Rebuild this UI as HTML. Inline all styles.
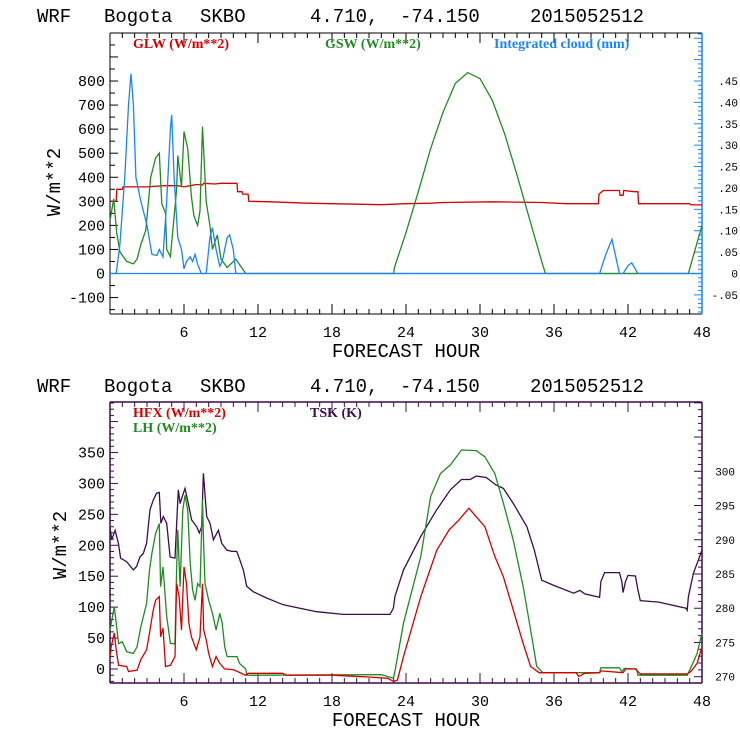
<!DOCTYPE html>
<html><head><meta charset="utf-8"><style>
body{margin:0;background:#fff;}
svg{display:block;}
.t{font-family:"Liberation Mono",monospace;font-size:19px;fill:#000;}
.tk{font-family:"Liberation Mono",monospace;font-size:15px;fill:#000;}
.tks{font-family:"Liberation Mono",monospace;font-size:11px;fill:#000;}
.lg{font-family:"Liberation Serif",serif;font-size:14px;font-weight:bold;}
</style></head><body>
<svg id="c" width="740" height="740" viewBox="0 0 740 740" xmlns="http://www.w3.org/2000/svg"></svg>
<script>
// ---- Panel 1 data ----
const glwH=[0,0.5,0.55,1.0,1.05,3.0,3.5,4.5,5.5,6.0,6.5,7.0,7.5,7.6,8.5,9.0,10.3,10.35,10.7,10.75,11.2,11.25,13,16,20,22,24,26,27,31,35,37,39.6,39.65,40,41.3,41.35,41.6,41.65,42.5,42.8,42.85,47,47.1,48];
const glwV=[300,300,350,350,360,360,362,365,365,360,365,370,368,375,372,375,375,340,340,330,330,300,298,292,288,286,290,292,295,298,295,290,290,330,345,345,325,325,345,340,340,290,290,285,285];
const gswH=[0,0.3,0.54,0.8,1.35,1.9,2.2,2.5,2.9,3.3,3.7,4.0,4.2,4.5,4.6,4.9,5.4,5.5,5.8,6.0,6.3,6.6,6.8,7.1,7.3,7.5,7.8,8.1,8.3,8.7,9.0,9.5,10.2,10.6,11.0,23.0,23.06,24,25,26,27,28,29,30,31,32,33,34,35,35.3,46.9,47.0,48];
const gswV=[220,310,170,90,50,40,60,120,180,400,480,500,290,250,100,70,350,490,360,590,520,320,240,200,260,610,300,200,100,160,60,25,60,30,0,0,25,170,340,520,670,790,835,810,720,580,410,230,50,0,0,20,200];
const cldH=[0,0.5,0.8,1.2,1.5,1.7,1.9,2.1,2.5,3.0,3.4,3.8,4.0,4.3,4.6,4.9,5.0,5.2,5.5,5.8,6.0,6.2,6.5,6.7,6.9,7.1,7.4,7.8,8.1,8.3,8.6,8.9,9.1,9.5,9.7,10.0,10.2,39.7,40.2,40.7,41.3,41.6,42.0,42.3,42.8,48];
const cldV=[0,0,0.068,0.225,0.394,0.467,0.394,0.225,0.169,0.113,0.045,0.042,0.056,0.039,0.169,0.338,0.371,0.225,0.084,0.056,0.011,0.028,0.039,0.028,0.045,0.022,0,0,0.084,0.107,0.056,0.017,0.028,0.084,0.09,0.056,0,0,0.045,0.08,0,0,0.018,0.025,0,0];
const p1Yticks=[-100,0,100,200,300,400,500,600,700,800];
const p1Rticks=["-.05","0",".05",".10",".15",".20",".25",".30",".35",".40",".45"];
const p1RVals=[-0.05,0,0.05,0.10,0.15,0.20,0.25,0.30,0.35,0.40,0.45];
const xTicks=[6,12,18,24,30,36,42,48];
// ---- Panel 2 data ----
const tskH=[0,0.14,0.41,0.68,0.86,1.35,1.89,2.16,2.43,2.7,2.97,3.24,3.51,3.78,4.0,4.13,4.32,4.6,4.87,5.27,5.54,5.68,5.95,6.08,6.35,6.62,7.03,7.24,7.43,7.57,7.84,8.11,8.38,8.79,9.06,9.46,9.87,10.27,10.54,10.81,11.08,11.63,12.7,14.06,15.4,16.76,18.9,21.1,22.7,22.98,23.1,23.8,25.2,26.5,27.6,28.5,29.2,29.7,30.5,31.3,31.9,32.7,33.8,34.4,35.0,35.9,37.6,38.1,38.5,39.7,39.8,40.1,41.3,41.5,41.6,41.8,42.0,42.6,42.8,43.0,44.5,46.7,46.8,46.9,47.3,47.9,48];
const tskV=[291.9,290,291.4,289.5,287.3,286.8,285.6,286.1,287.5,288,289.5,294.4,295.8,296.8,296.9,292.4,293.4,292.4,287.5,287.3,297.3,295.3,296.8,297.5,295.3,292.9,291.9,291,291.9,299.7,293.4,292.4,290,291.4,289.5,288.5,288.3,288.3,287,285.6,283.2,282.4,281.5,280.5,280,279.5,279.1,279.1,279.1,280,281.7,285.6,290.5,294.4,297.3,298.8,298.8,299.3,299.1,298,297.5,295.3,291.9,288.5,284.1,283.4,282.2,282.6,282.1,281.6,283.9,285.2,285.2,283.9,282.3,283.9,284.8,284.7,282.7,281.1,280.9,280,279.7,281.7,285.1,288,288.5];
const lhH=[0,0.2,0.35,0.5,0.7,1.0,1.35,1.9,2.2,2.5,2.97,3.2,3.4,3.7,4.0,4.1,4.3,4.6,4.9,5.27,5.4,5.5,5.68,5.9,6.08,6.3,6.5,6.7,6.9,7.1,7.3,7.5,7.6,7.7,8.0,8.3,8.6,8.9,9.1,9.3,9.5,9.9,10.3,10.5,11.0,11.1,22,22.98,23.1,23.8,25.2,26.0,26.8,27.6,28.5,29.7,30.4,31.2,31.9,32.7,33.5,34.2,34.6,35.1,39.7,39.8,41.3,41.5,41.7,42.7,42.8,46.8,47.0,47.6,48];
const lhV=[63,85,101,74,41,44,28,25,36,68,106,160,187,219,235,133,165,85,41,41,160,225,133,257,281,257,171,128,111,138,133,273,198,138,111,90,63,90,74,36,20,20,20,9,0,-10,-9,-15,-4,74,182,279,316,330,354,353,343,316,268,208,133,52,4,-6,-6,2,2,-4,1,0,-10,-10,-2,25,58];
const hfxH=[0,0.1,0.35,0.5,0.7,1.35,1.5,2.2,2.5,2.97,3.2,3.5,3.7,4.0,4.1,4.3,4.5,4.9,5.27,5.4,5.6,5.8,6.0,6.2,6.4,6.6,7.0,7.3,7.5,7.6,7.8,8.0,8.3,8.6,8.9,9.3,10,11,11.2,14,14.3,18,19,21,22.5,23.0,23.3,23.8,25.2,26.5,27.5,28.3,29.1,29.7,30.4,31.2,31.9,32.7,33.5,34.1,34.8,37.8,38.0,38.5,39.7,39.8,41.6,41.8,42.6,43.0,46.8,47.1,47.6,48];
const hfxV=[20,36,58,31,6,4,-4,-2,15,31,58,95,111,117,52,66,4,6,20,138,117,63,165,138,74,52,31,52,138,63,47,25,4,20,9,0,-1,-10,-7,-7,-10,-10,-11,-13,-15,-20,-18,20,117,192,225,241,260,246,230,182,149,95,41,4,-6,-6,-12,-7,-6,-3,-6,0,0,-8,-8,-4,9,36];
const p2Yticks=[0,50,100,150,200,250,300,350];
const p2RVals=[270,275,280,285,290,295,300];

const svg=document.getElementById('c');
const NS='http://www.w3.org/2000/svg';
function mk(tag,attrs,parent){const e=document.createElementNS(NS,tag);for(const k in attrs)e.setAttribute(k,attrs[k]);(parent||svg).appendChild(e);return e;}
const X0=110,X1=702;
const xs=h=>X0+h*(X1-X0)/48;
const y1=v=>273.5-v*0.2406;
const yc=v=>273.5-v*(800/0.45)*0.2406;
const y2=v=>669-v*0.6186;
const yt=v=>676.7-(v-270)*6.847;

function txt(x,y,s,cls,anchor,fill,name){const e=mk('text',{x:x,y:y,class:cls,'text-anchor':anchor||'start'});if(fill)e.setAttribute('fill',fill);e.textContent=s;


return e;}
function line(xa,ya,xb,yb,col,name,w){const e=mk('line',{x1:xa,y1:ya,x2:xb,y2:yb,stroke:col,'stroke-width':w||1});


return e;}
function series(H,V,fx,fy,col,name){const pts=H.map((h,i)=>fx(h).toFixed(1)+','+fy(V[i]).toFixed(1)).join(' ');const e=mk('polyline',{points:pts,fill:'none',stroke:col,'stroke-width':1.3});


return e;}
function title(yb,name){
 const parts=[[37,'WRF'],[104,'Bogota'],[200,'SKBO'],[310,'4.710,'],[400,'-74.150'],[530,'2015052512']];
 parts.forEach(p=>txt(p[0],yb,p[1],'t','start',null,name));
}
const RED='#d40000',GRN='#228a22',BLU='#1a84ff',PUR='#3c0c4c';

// ===== Panel 1 =====
title(22,'panel1-title');
const T1=33,B1=314;
for(let h=0;h<=48;h++){const L=(h%6===0)?10:5;line(xs(h),B1,xs(h),B1-L,'#000','x-tick');line(xs(h),T1,xs(h),T1+L,'#000','x-tick');}
xTicks.forEach(h=>txt(xs(h),337,String(h),'tk','middle',null,'x-tick-label'));
for(let v=-150;v<=1000;v+=50){const yy=y1(v);if(yy<T1||yy>B1)continue;line(X0,yy,X0+(v%100===0?8:5),yy,'#000','y-tick');}
p1Yticks.forEach(v=>txt(105,y1(v)+5,String(v),'tk','end',null,'y-tick-label'));
for(let i=-9;i<=56;i++){const v=i*0.01;const yy=yc(v);if(yy<T1||yy>B1)continue;line(X1,yy,X1-(i%5===0?8:4),yy,BLU,'right-tick');}
p1RVals.forEach((v,i)=>txt(738,yc(v)+4,p1Rticks[i],'tks','end',null,'right-tick-label'));
line(X0,T1,X1,T1,'#000','frame-top');line(X0,B1,X1,B1,'#000','frame-bottom');line(X0,T1,X0,B1,'#000','frame-left');line(X1,T1,X1,B1,BLU,'frame-right',1.5);
line(X0,y1(0),X1,y1(0),BLU,'zero-line',1.3);
series(glwH,glwV,xs,y1,RED,'glw-line');
series(gswH,gswV,xs,y1,GRN,'gsw-line');
series(cldH,cldV,xs,yc,BLU,'cloud-line');
txt(133,48,'GLW (W/m**2)','lg','start',RED,'legend-glw');
txt(325,48,'GSW (W/m**2)','lg','start',GRN,'legend-gsw');
txt(494,48,'Integrated cloud (mm)','lg','start',BLU,'legend-cloud');
let yl=txt(0,0,'W/m**2','t','middle',null,'y-axis-title');yl.setAttribute('transform','translate(60,182) rotate(-90)');
txt(406,357,'FORECAST HOUR','t','middle',null,'x-axis-title');

// ===== Panel 2 =====
title(392,'panel2-title');
const T2=402,B2=683;
for(let h=0;h<=48;h++){const L=(h%6===0)?10:5;line(xs(h),B2,xs(h),B2-L,PUR,'x-tick');line(xs(h),T2,xs(h),T2+L,PUR,'x-tick');}
xTicks.forEach(h=>txt(xs(h),706,String(h),'tk','middle',null,'x-tick-label'));
for(let v=-20;v<=430;v+=10){const yy=y2(v);if(yy<T2||yy>B2)continue;line(X0,yy,X0+(v%50===0?8:4),yy,PUR,'y-tick');}
p2Yticks.forEach(v=>txt(105,y2(v)+5,String(v),'tk','end',null,'y-tick-label'));
for(let v=270;v<=310;v++){const yy=yt(v);if(yy<T2||yy>B2)continue;line(X1,yy,X1-(v%5===0?8:4),yy,PUR,'right-tick');}
p2RVals.forEach(v=>txt(735,yt(v)+4,String(v),'tks','end',null,'right-tick-label'));
line(X0,T2,X1,T2,PUR,'frame-top',1.5);line(X0,B2,X1,B2,PUR,'frame-bottom',1.5);line(X0,T2,X0,B2,PUR,'frame-left',1.5);line(X1,T2,X1,B2,PUR,'frame-right',1.5);
series(tskH,tskV,xs,yt,PUR,'tsk-line');
series(lhH,lhV,xs,y2,GRN,'lh-line');
series(hfxH,hfxV,xs,y2,RED,'hfx-line');
txt(133,417,'HFX (W/m**2)','lg','start',RED,'legend-hfx');
txt(133,432,'LH  (W/m**2)','lg','start',GRN,'legend-lh');
txt(310,417,'TSK (K)','lg','start',PUR,'legend-tsk');
let yl2=txt(0,0,'W/m**2','t','middle',null,'y-axis-title');yl2.setAttribute('transform','translate(66,545) rotate(-90)');
txt(406,726,'FORECAST HOUR','t','middle',null,'x-axis-title');
</script>
</body></html>
